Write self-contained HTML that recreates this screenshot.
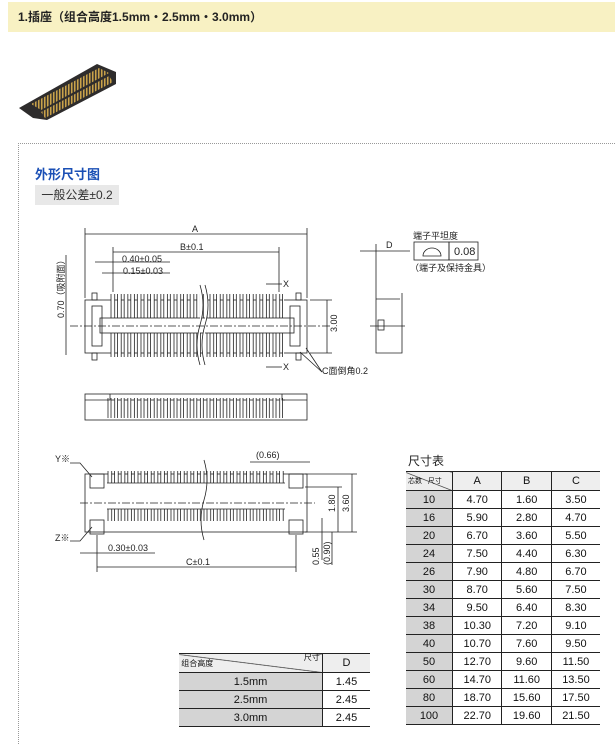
<!DOCTYPE html>
<html><head><meta charset="utf-8"><style>
body{margin:0;width:615px;height:736px;background:#fff;overflow:hidden;font-family:"Liberation Sans","Noto Sans CJK SC",sans-serif;position:relative}
.hdr{position:absolute;left:8px;top:2px;width:607px;height:30px;background:#f8f1c3;font-size:12px;font-weight:bold;color:#222;line-height:30px;padding-left:10px;box-sizing:border-box}
.box{position:absolute;left:18px;top:143px;width:600px;height:600px;border-left:1px dotted #999;border-top:1px dotted #999}
.t1{position:absolute;left:35px;top:164px;font-size:13px;font-weight:bold;color:#1a4fb5}
.tol{position:absolute;left:35px;top:185px;width:84px;height:20px;background:#e8e8e8;font-size:12px;color:#333;line-height:20px;text-align:center}
table{border-collapse:collapse;position:absolute;font-size:11px;color:#111}
td{border-bottom:1px solid #222;text-align:center;padding:0;height:17px}
table td+td{border-left:1px solid #222}
.g{background:#d4d4d4}
</style></head><body>
<div class="hdr">1.插座（组合高度1.5mm・2.5mm・3.0mm）</div>
<svg style="position:absolute;left:0;top:0" width="615" height="736">
<defs>
<pattern id="pin" x="110" y="0" width="6.6" height="40" patternUnits="userSpaceOnUse"><rect x="1" y="0" width="3.6" height="40" fill="#fff" stroke="#222" stroke-width="0.8"/></pattern>
<pattern id="pin2" x="107" y="0" width="6.6" height="20" patternUnits="userSpaceOnUse"><rect x="1" y="-2" width="3.6" height="40" fill="#fff" stroke="#222" stroke-width="0.8"/></pattern>
<pattern id="gold" x="0" y="0" width="3" height="3" patternUnits="userSpaceOnUse"><rect width="3" height="3" fill="#3a3530"/><rect width="1.5" height="3" fill="#c9a24a"/></pattern>
</defs>
<g transform="translate(17,60)">
<polygon points="2,48 80,4 99,12 99,24 30,60 16,58" fill="#2e2c2c"/>
<polygon points="14,44 82,8 92,13 24,50" fill="url(#gold)"/>
<polygon points="24,52 92,16 96,22 28,58" fill="url(#gold)"/>
</g>
<g stroke="#222" fill="none" stroke-width="0.8" font-size="9" font-family="Liberation Sans,sans-serif">
<rect x="85" y="300" width="222" height="53"/>
<rect x="110" y="294" width="174" height="24" fill="url(#pin)" stroke="none"/>
<rect x="110" y="333" width="174" height="24" fill="url(#pin)" stroke="none"/>
<rect x="100" y="318" width="194" height="15" fill="#fff"/>
<line x1="70" y1="326" x2="330" y2="326" stroke-dasharray="8,2,2,2"/>
<rect x="92" y="306" width="10" height="40"/><rect x="290" y="306" width="10" height="40"/>
<rect x="92" y="293" width="5" height="7"/><rect x="296" y="293" width="5" height="7"/>
<rect x="92" y="353" width="5" height="7"/><rect x="296" y="353" width="5" height="7"/>
<path d="M200,285 q6,20 0,40 q-6,20 0,40 M205,285 q6,20 0,40 q-6,20 0,40" fill="#fff"/>
<line x1="85" y1="298" x2="85" y2="228"/><line x1="307" y1="298" x2="307" y2="228"/>
<line x1="85" y1="234" x2="307" y2="234"/>
<line x1="113" y1="292" x2="113" y2="247"/><line x1="279" y1="292" x2="279" y2="247"/>
<line x1="113" y1="252" x2="279" y2="252"/>
<line x1="95" y1="262" x2="170" y2="262"/><line x1="102" y1="273" x2="170" y2="273"/>
<line x1="310" y1="300" x2="332" y2="300"/><line x1="310" y1="353" x2="332" y2="353"/><line x1="327" y1="300" x2="327" y2="353"/>
<line x1="66" y1="255" x2="66" y2="355"/>
<line x1="266" y1="284" x2="282" y2="284"/><line x1="266" y1="367" x2="282" y2="367"/>
<line x1="306" y1="348" x2="322" y2="372"/><line x1="300" y1="352" x2="322" y2="372"/>
<rect x="85" y="394" width="222" height="26"/>
<rect x="107" y="398" width="178" height="20" fill="url(#pin)" stroke="none"/>
<path d="M85,400 h25 v-6 M307,400 h-25 v-6"/>
<path d="M376,244 v55 h10 M376,299 v54 h26 v-60 M386,299 h14"/>
<line x1="360" y1="251" x2="410" y2="251"/>
<rect x="378" y="320" width="6" height="10"/><line x1="370" y1="326" x2="405" y2="326"/>
<rect x="414" y="242" width="35" height="18"/><rect x="449" y="242" width="29" height="18"/>
<path d="M423,256 a9,8 0 0 1 18,0 z"/>
<rect x="85" y="474" width="222" height="58"/>
<rect x="107" y="471" width="178" height="12" fill="url(#pin2)" stroke="none"/>
<rect x="107" y="509" width="178" height="12" fill="url(#pin2)" stroke="none"/>
<line x1="107" y1="483" x2="285" y2="483"/><line x1="107" y1="509" x2="285" y2="509"/>
<line x1="80" y1="503" x2="315" y2="503" stroke-dasharray="8,2,2,2"/>
<rect x="90" y="474" width="14" height="14"/><rect x="289" y="474" width="14" height="14"/>
<rect x="90" y="520" width="14" height="14"/><rect x="289" y="520" width="14" height="14"/>
<path d="M204,460 q6,20 0,40 q-6,20 0,40" />
<line x1="97" y1="535" x2="97" y2="572"/><line x1="296" y1="535" x2="296" y2="572"/>
<line x1="97" y1="567" x2="296" y2="567"/>
<line x1="80" y1="553" x2="155" y2="553"/>
<line x1="250" y1="462" x2="310" y2="462"/>
<line x1="305" y1="474" x2="357" y2="474"/><line x1="305" y1="532" x2="357" y2="532"/><line x1="352" y1="474" x2="352" y2="532"/>
<line x1="305" y1="487" x2="342" y2="487"/><line x1="338" y1="487" x2="338" y2="532"/>
<line x1="322" y1="518" x2="322" y2="560"/><line x1="332" y1="532" x2="332" y2="565"/>
<path d="M70,463 h10 l12,14 M70,541 h10 l12,-14"/>
</g>
<g font-size="9" fill="#222" font-family="Liberation Sans,Noto Sans CJK SC,sans-serif">
<text x="192" y="232">A</text><text x="180" y="250">B±0.1</text>
<text x="122" y="262">0.40±0.05</text><text x="123" y="274">0.15±0.03</text>
<text x="283" y="287">X</text><text x="283" y="370">X</text>
<text x="322" y="374">C面倒角0.2</text>
<text transform="translate(337,332) rotate(-90)">3.00</text>
<text transform="translate(64,318) rotate(-90)">0.70（吸附面）</text>
<text x="386" y="248">D</text>
<text x="413" y="239">端子平坦度</text><text x="454" y="255" font-size="11">0.08</text>
<text x="410" y="271">（端子及保持金具）</text>
<text x="55" y="462">Y※</text><text x="55" y="541">Z※</text>
<text x="256" y="458">(0.66)</text>
<text x="108" y="551">0.30±0.03</text>
<text x="186" y="565">C±0.1</text>
<text transform="translate(349,512) rotate(-90)">3.60</text>
<text transform="translate(335,512) rotate(-90)">1.80</text>
<text transform="translate(319,565) rotate(-90)">0.55</text>
<text transform="translate(330,565) rotate(-90)">(0.90)</text>
<text x="408" y="465" font-size="12">尺寸表</text>
</g>
</svg>
<div class="box"></div>
<div class="t1">外形尺寸图</div>
<div class="tol">一般公差±0.2</div>
<table style="left:406px;top:471px;width:194px;border-top:1px solid #222">
<tr style="background:#eee"><td style="width:46px;font-size:7px;height:18px;text-align:left;background:linear-gradient(to bottom left,#eee 48%,#333 50%,#eee 52%)">&nbsp;芯数 &nbsp;&nbsp;尺寸</td><td>A</td><td>B</td><td>C</td></tr>
<tr><td class="g">10</td><td>4.70</td><td>1.60</td><td>3.50</td></tr>
<tr><td class="g">16</td><td>5.90</td><td>2.80</td><td>4.70</td></tr>
<tr><td class="g">20</td><td>6.70</td><td>3.60</td><td>5.50</td></tr>
<tr><td class="g">24</td><td>7.50</td><td>4.40</td><td>6.30</td></tr>
<tr><td class="g">26</td><td>7.90</td><td>4.80</td><td>6.70</td></tr>
<tr><td class="g">30</td><td>8.70</td><td>5.60</td><td>7.50</td></tr>
<tr><td class="g">34</td><td>9.50</td><td>6.40</td><td>8.30</td></tr>
<tr><td class="g">38</td><td>10.30</td><td>7.20</td><td>9.10</td></tr>
<tr><td class="g">40</td><td>10.70</td><td>7.60</td><td>9.50</td></tr>
<tr><td class="g">50</td><td>12.70</td><td>9.60</td><td>11.50</td></tr>
<tr><td class="g">60</td><td>14.70</td><td>11.60</td><td>13.50</td></tr>
<tr><td class="g">80</td><td>18.70</td><td>15.60</td><td>17.50</td></tr>
<tr><td class="g">100</td><td>22.70</td><td>19.60</td><td>21.50</td></tr>
</table>
<table style="left:179px;top:653px;width:191px;border-top:1px solid #222">
<tr style="background:#eee"><td style="width:143px;font-size:8px;height:18px;text-align:left;background:linear-gradient(to bottom left,#eee 48%,#333 50%,#eee 52%)">&nbsp;组合高度<span style="float:right;margin-top:-6px">尺寸&nbsp;</span></td><td>D</td></tr>
<tr><td class="g">1.5mm</td><td>1.45</td></tr>
<tr><td class="g">2.5mm</td><td>2.45</td></tr>
<tr><td class="g">3.0mm</td><td>2.45</td></tr>
</table>
</body></html>
